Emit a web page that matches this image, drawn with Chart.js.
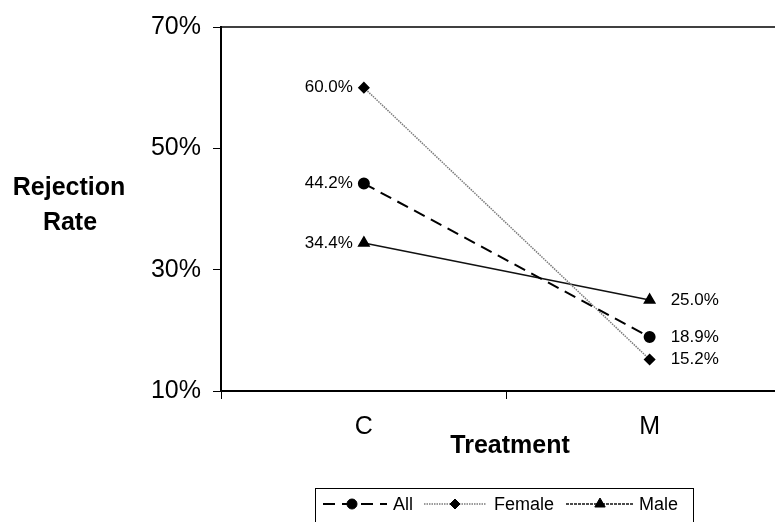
<!DOCTYPE html>
<html>
<head>
<meta charset="utf-8">
<script src="https://cdn.jsdelivr.net/npm/chart.js@4.4.1/dist/chart.umd.min.js"></script>
<style>
  html, body { margin: 0; padding: 0; background: #fff; width: 775px; height: 522px; overflow: hidden; }
  #wrap { width: 800px; height: 522px; }
</style>
</head>
<body>
<div id="wrap"><canvas id="lineChart"></canvas></div>
<script>
// chart values
var categories = ['C', 'M'];
var allRate = [44.2, 18.9];
var femaleRate = [60.0, 15.2];
var maleRate = [34.4, 25.0];
var seriesNames = ['All', 'Female', 'Male'];
var yTicks = [10, 30, 50, 70];

Chart.defaults.font.family = '"Liberation Sans", Arial, sans-serif';
Chart.defaults.color = '#000';

// frame top line, axis titles, value labels and the boxed legend
var extras = {
    id: 'extras',
    afterDraw: function(chart) {
        var c = chart.ctx, area = chart.chartArea;
        c.save();
        c.strokeStyle = '#000';
        c.lineWidth = 1.5;
        c.beginPath();
        c.moveTo(area.left, area.top);
        c.lineTo(area.right, area.top);
        c.stroke();

        c.fillStyle = '#000';
        c.textAlign = 'center';
        c.textBaseline = 'middle';
        c.font = 'bold 25px "Liberation Sans", Arial, sans-serif';
        c.fillText('Rejection', 69, 188);
        c.fillText('Rate', 70, 223);
        c.fillText('Treatment', 510, 446);

        // value labels next to each point
        c.font = '17px "Liberation Sans", Arial, sans-serif';
        chart.data.datasets.forEach(function(ds, i) {
            var meta = chart.getDatasetMeta(i);
            meta.data.forEach(function(pt, j) {
                var txt = ds.data[j].toFixed(1) + '%';
                if (j === 0) {
                    c.textAlign = 'right';
                    c.fillText(txt, pt.x - 11, pt.y);
                } else {
                    c.textAlign = 'left';
                    c.fillText(txt, pt.x + 21, pt.y);
                }
            });
        });

        // legend
        c.lineWidth = 1;
        c.strokeStyle = '#000';
        c.strokeRect(315.5, 488.5, 378, 40);
        var ly = 504;
        var items = [
            {x1: 323, x2: 387, mx: 352, tx: 393},
            {x1: 424, x2: 486, mx: 455, tx: 494},
            {x1: 566, x2: 634, mx: 600, tx: 639}
        ];
        c.font = '18px "Liberation Sans", Arial, sans-serif';
        c.textAlign = 'left';
        chart.data.datasets.forEach(function(ds, i) {
            var it = items[i];
            c.save();
            c.strokeStyle = ds.borderColor;
            c.lineWidth = ds.borderWidth;
            c.setLineDash(i === 2 ? [3, 1] : ds.borderDash);
            c.beginPath();
            c.moveTo(it.x1, ly);
            c.lineTo(it.x2, ly);
            c.stroke();
            c.restore();
            Chart.helpers.drawPoint(c, {
                pointStyle: ds.pointStyle, radius: ds.pointRadius, rotation: 0, borderWidth: 1
            }, it.mx, ly);
            c.fillStyle = '#000';
            c.fillText(ds.label, it.tx, ly + 1);
        });
        c.restore();
    }
};

var ctx = document.getElementById('lineChart').getContext('2d');
var myChart = new Chart(ctx, {
    type: 'line',
    data: {
        labels: categories,
        datasets: [{
            label: seriesNames[0],
            data: allRate,
            borderColor: '#000',
            borderWidth: 2,
            borderDash: [12, 7],
            pointStyle: 'circle',
            pointRadius: 5,
            pointBackgroundColor: '#000',
            pointBorderColor: '#000'
        }, {
            label: seriesNames[1],
            data: femaleRate,
            borderColor: '#7a7a7a',
            borderWidth: 1.5,
            borderDash: [1.5, 1],
            pointStyle: 'rectRot',
            pointRadius: 5,
            pointBackgroundColor: '#000',
            pointBorderColor: '#000'
        }, {
            label: seriesNames[2],
            data: maleRate,
            borderColor: '#111',
            borderWidth: 1.5,
            borderDash: [],
            pointStyle: 'triangle',
            pointRadius: 6,
            pointBackgroundColor: '#000',
            pointBorderColor: '#000'
        }]
    },
    options: {
        responsive: true,
        maintainAspectRatio: false,
        animation: false,
        layout: {
            padding: {top: 22, left: 0, right: 3, bottom: 0}
        },
        plugins: {
            legend: {display: false},
            tooltip: {enabled: false}
        },
        scales: {
            x: {
                offset: true,
                afterFit: function(s) { s.height = 131; },
                grid: {
                    offset: true,
                    drawOnChartArea: false,
                    drawTicks: true,
                    tickLength: 8,
                    color: '#000'
                },
                border: {color: '#000', width: 2},
                ticks: {
                    padding: 13,
                    font: {size: 25}
                }
            },
            y: {
                min: 10,
                max: 70,
                afterFit: function(s) { s.width = 221; },
                afterBuildTicks: function(s) {
                    s.ticks = yTicks.map(function(v) { return {value: v}; });
                },
                grid: {
                    drawOnChartArea: false,
                    drawTicks: true,
                    tickLength: 8,
                    color: '#000'
                },
                border: {color: '#000', width: 2},
                ticks: {
                    padding: 12,
                    font: {size: 25},
                    callback: function(v) { return v + '%'; }
                }
            }
        }
    },
    plugins: [extras]
});
</script>
</body>
</html>
